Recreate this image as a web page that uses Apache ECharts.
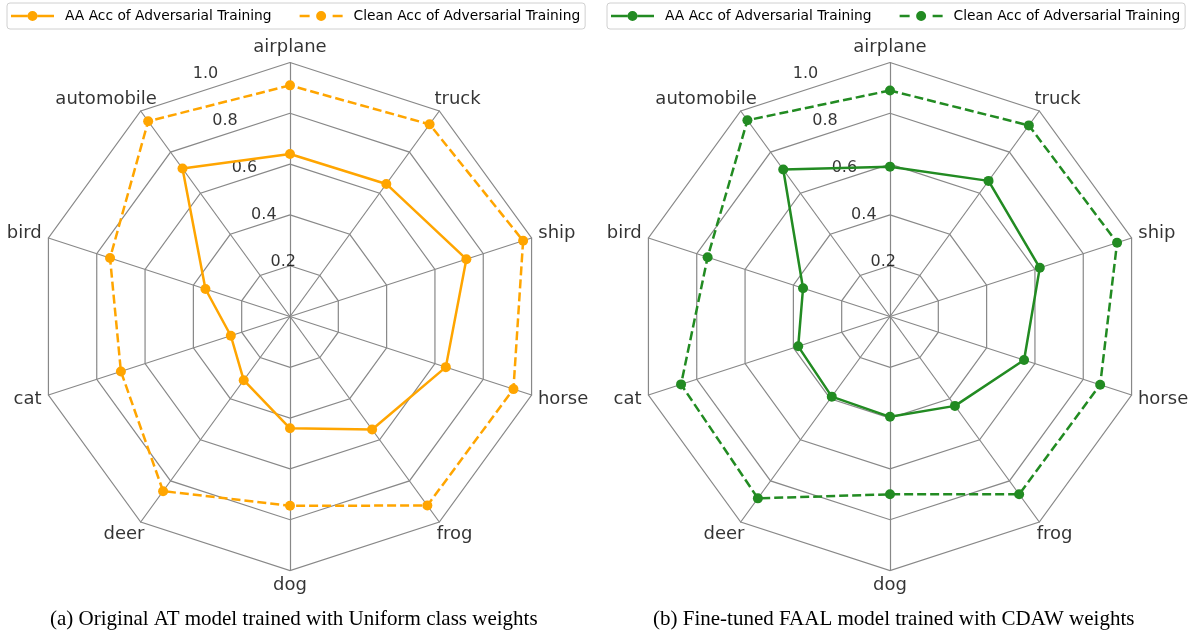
<!DOCTYPE html>
<html>
<head>
<meta charset="utf-8">
<script src="https://cdn.jsdelivr.net/npm/echarts@6/dist/echarts.min.js"></script>
<style>
  html, body { margin: 0; padding: 0; background: #fff; }
  #chart { width: 1196px; height: 636px; }
</style>
</head>
<body>
<div id="chart"></div>
<script>
// CIFAR-10 classes, listed counter-clockwise from the top spoke
const categories = ['airplane', 'automobile', 'bird', 'cat', 'deer', 'dog', 'frog', 'horse', 'ship', 'truck'];

// (a) Original AT model, uniform class weights
const atAA    = [0.64, 0.72, 0.35, 0.245, 0.31, 0.44, 0.55, 0.645, 0.73, 0.645];
const atClean = [0.91, 0.95, 0.745, 0.70, 0.85, 0.745, 0.92, 0.925, 0.965, 0.935];

// (b) Fine-tuned FAAL model, CDAW weights
const faalAA    = [0.59, 0.715, 0.36, 0.38, 0.39, 0.395, 0.435, 0.555, 0.62, 0.66];
const faalClean = [0.89, 0.955, 0.755, 0.865, 0.885, 0.70, 0.865, 0.87, 0.94, 0.93];

// radial tick labels and the angle (degrees, counter-clockwise from top) they sit on
const radialTicks = [0.2, 0.4, 0.6, 0.8, 1.0];
const radialLabelAngle = 22.5;

const seriesNames = ['AA Acc of Adversarial Training', 'Clean Acc of Adversarial Training'];
const captions = [
  '(a) Original AT model trained with Uniform class weights',
  '(b) Fine-tuned FAAL model trained with CDAW weights'
];

const ORANGE = '#FFA500';
const GREEN = '#228B22';
const GRID = '#888888';
const SANS = 'DejaVu Sans';
const SERIF = 'Liberation Serif';

const centers = [[290, 316.5], [890, 316.5]];
const RADIUS = 254;
const NAME_FONT = 18;
const NAME_PAD_X = 8;      // horizontal gap between the outer frame and a class name box
const NAME_PAD_Y = 5;      // vertical gap
const NAME_HALF_H = 10;    // half height of a class name line

const solidIcon = 'path://M0,3.8H16.5V6.2H0Z M26.5,3.8H43V6.2H26.5Z M16.5,5A5,5,0,1,0,26.5,5A5,5,0,1,0,16.5,5Z';
const dashedIcon = 'path://M0,3.8H10V6.2H0Z M33,3.8H43V6.2H33Z M16.5,5A5,5,0,1,0,26.5,5A5,5,0,1,0,16.5,5Z';

// text width helper for placing class names outside the frame
const measureCtx = document.createElement('canvas').getContext('2d');
measureCtx.font = NAME_FONT + 'px "' + SANS + '"';
const textWidth = s => measureCtx.measureText(s).width;

function radarCfg(center) {
  return {
    center: center,
    radius: RADIUS,
    startAngle: 90,
    splitNumber: 5,
    shape: 'polygon',
    indicator: categories.map(c => ({ name: c, min: 0, max: 1 })),
    axisName: { show: false },
    axisLine: { lineStyle: { color: GRID, width: 1.2 } },
    splitLine: { lineStyle: { color: GRID, width: 1.2 } },
    splitArea: { show: false },
    axisTick: { show: false },
    axisLabel: { show: false }
  };
}

function radarSeries(idx, aa, clean, color) {
  return {
    type: 'radar',
    radarIndex: idx,
    z: 3,
    symbol: 'circle',
    symbolSize: 10,
    itemStyle: { color: color },
    data: [
      { name: seriesNames[0], value: aa,
        lineStyle: { color: color, width: 2.5, type: 'solid' },
        itemStyle: { color: color } },
      { name: seriesNames[1], value: clean,
        lineStyle: { color: color, width: 2.5, type: [9, 4] },
        itemStyle: { color: color } }
    ]
  };
}

function tickSeries(idx) {
  return {
    type: 'scatter',
    coordinateSystem: 'polar',
    polarIndex: idx,
    z: 1,
    silent: true,
    symbolSize: 0,
    itemStyle: { color: 'transparent' },
    data: radialTicks.map(r => [r, radialLabelAngle]),
    label: {
      show: true,
      position: [0, 0],
      align: 'left',
      verticalAlign: 'bottom',
      color: '#000',
      fontSize: 16,
      fontFamily: SANS,
      formatter: p => p.value[0].toFixed(1)
    }
  };
}

// class names sit just outside each outer vertex, pushed out by half their box
function nameSeries(idx) {
  const step = 360 / categories.length;
  return {
    type: 'scatter',
    coordinateSystem: 'polar',
    polarIndex: idx,
    z: 1,
    silent: true,
    symbolSize: 0,
    itemStyle: { color: 'transparent' },
    data: categories.map((c, i) => {
      const a = (i * step) * Math.PI / 180;
      const dx = -Math.sin(a), dy = -Math.cos(a);
      const w = textWidth(c);
      return {
        name: c,
        value: [1, i * step],
        label: { offset: [dx * (w / 2 + NAME_PAD_X), dy * (NAME_HALF_H + NAME_PAD_Y)] }
      };
    }),
    label: {
      show: true,
      position: [0, 0],
      align: 'center',
      verticalAlign: 'middle',
      color: '#000',
      fontSize: NAME_FONT,
      fontFamily: SANS,
      formatter: p => p.name
    }
  };
}

function legendCfg(left, color) {
  return {
    left: left,
    top: 3,
    orient: 'horizontal',
    padding: [6, 5, 6, 4],
    itemGap: 28,
    itemWidth: 43,
    itemHeight: 10,
    borderColor: '#d0d0d0',
    borderWidth: 1,
    borderRadius: 3,
    selectedMode: false,
    textStyle: { fontSize: 13.8, fontFamily: SANS, color: '#000', padding: [0, 0, 0, 6] },
    data: [
      { name: seriesNames[0], icon: solidIcon, itemStyle: { color: color, borderWidth: 0 } },
      { name: seriesNames[1], icon: dashedIcon, itemStyle: { color: color, borderWidth: 0 } }
    ]
  };
}

const chart = echarts.init(document.getElementById('chart'), null, { renderer: 'canvas' });

chart.setOption({
  backgroundColor: '#fff',
  animation: false,
  radar: [radarCfg(centers[0]), radarCfg(centers[1])],
  polar: centers.map(c => ({ center: c, radius: RADIUS })),
  angleAxis: [0, 1].map(i => ({
    polarIndex: i, type: 'value', min: 0, max: 360,
    startAngle: 90, clockwise: false, show: false
  })),
  radiusAxis: [0, 1].map(i => ({ polarIndex: i, type: 'value', min: 0, max: 1, show: false })),
  legend: [legendCfg(7, ORANGE), legendCfg(607, GREEN)],
  series: [
    radarSeries(0, atAA, atClean, ORANGE),
    radarSeries(1, faalAA, faalClean, GREEN),
    tickSeries(0),
    tickSeries(1),
    nameSeries(0),
    nameSeries(1)
  ],
  graphic: [
    { type: 'text', left: 50, top: 609,
      style: { text: captions[0], font: '21px "' + SERIF + '"', fill: '#000' } },
    { type: 'text', left: 653, top: 609,
      style: { text: captions[1], font: '21px "' + SERIF + '"', fill: '#000' } }
  ]
});
</script>
</body>
</html>
